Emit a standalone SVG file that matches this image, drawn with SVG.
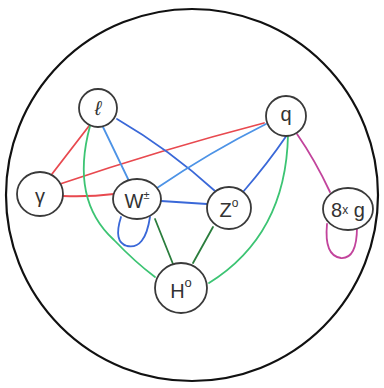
<svg xmlns="http://www.w3.org/2000/svg" width="384" height="388" viewBox="0 0 384 388">
  <style>
    .frame { fill: none; stroke: #111; stroke-width: 2.2; }
    .node ellipse { fill: #fff; stroke: #3a3a3a; stroke-width: 1.8; }
    .node text { font-family: "Liberation Sans", "DejaVu Sans", sans-serif; font-size: 20px; fill: #333; text-anchor: middle; dominant-baseline: central; }
    .edges path { fill: none; stroke-width: 1.8; stroke-linecap: round; }
    .red { stroke: #e8494f; }
    .blue { stroke: #3a68d8; }
    .lblue { stroke: #4d93e6; }
    .green { stroke: #3cc473; }
    .dgreen { stroke: #2b7d3d; }
    .mag { stroke: #c2449c; }
  </style>
  <rect width="384" height="388" fill="#fff"/>
  <circle class="frame" cx="192" cy="195" r="186"/>

  <g id="edges" class="edges">
    <path class="red" d="M89,126 L52,174"/>
    <path class="red" d="M60,184 Q160,150 264,123"/>
    <path class="red" d="M63,196 Q90,197 114,194"/>
    <path class="lblue" d="M103,127 L129,181"/>
    <path class="blue" d="M117,119 Q170,150 215,191"/>
    <path class="lblue" d="M157,188 Q210,152 266,124"/>
    <path class="blue" d="M161,201 L207,204"/>
    <path class="blue" d="M243,192 Q268,163 287,135"/>
    <path class="blue" d="M121,217 Q113,242 127,246 Q145,250 150,217"/>
    <path class="green" d="M90,126 Q70,200 114,240 Q135,262 155,277"/>
    <path class="green" d="M288,135 Q286,235 209,283"/>
    <path class="dgreen" d="M155,219 L173,264"/>
    <path class="dgreen" d="M213,227 L193,263"/>
    <path class="mag" d="M297,134 Q315,160 330,192"/>
    <path class="mag" d="M327,224 Q324,256 341,258 Q357,259 357,227"/>
  </g>

  <g id="node-l" class="node">
    <ellipse cx="98" cy="108" rx="19" ry="19"/>
    <text x="98" y="108" font-style="italic">ℓ</text>
  </g>
  <g id="node-gamma" class="node">
    <ellipse cx="40" cy="194" rx="23" ry="22"/>
    <text x="40" y="196">γ</text>
  </g>
  <g id="node-w" class="node">
    <ellipse cx="137" cy="199" rx="24" ry="20"/>
    <text x="137" y="201">W<tspan font-size="11" dy="-6">±</tspan></text>
  </g>
  <g id="node-q" class="node">
    <ellipse cx="286" cy="116" rx="20" ry="20"/>
    <text x="286" y="114">q</text>
  </g>
  <g id="node-z" class="node">
    <ellipse cx="229" cy="208" rx="22" ry="21"/>
    <text x="229" y="210">Z<tspan font-size="12" dy="-7">o</tspan></text>
  </g>
  <g id="node-g" class="node">
    <ellipse cx="348" cy="209" rx="25" ry="21"/>
    <text x="348" y="210" font-size="18">8<tspan font-size="12">x</tspan> g</text>
  </g>
  <g id="node-h" class="node">
    <ellipse cx="181" cy="288" rx="26" ry="25"/>
    <text x="181" y="291" font-size="24">H<tspan font-size="13" dy="-9">o</tspan></text>
  </g>
</svg>
